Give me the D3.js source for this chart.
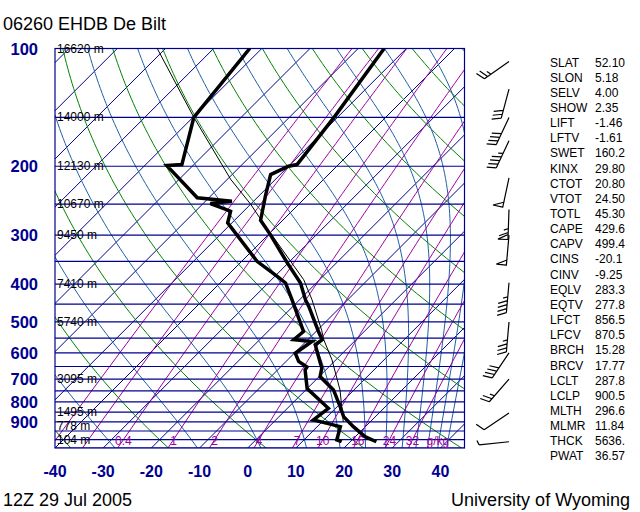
<!DOCTYPE html>
<html>
<head>
<meta charset="utf-8">
<script src="https://cdn.jsdelivr.net/npm/d3@7"></script>
<style>
  body { margin: 0; background: #fff; }
  svg { display: block; font-family: "Liberation Sans", Arial, sans-serif; }
</style>
</head>
<body>
<svg id="chart" width="640" height="512"></svg>
<script>
// ---- sounding (hPa, degC) ----
const tempP = [100, 150, 198, 200, 210, 238.5, 274.8, 299, 353.3, 397.5, 438.6, 456.4, 528.9, 555.3, 572, 612.9, 656.2, 689.6, 745.9, 823, 873.1, 926.1, 982.2, 1012];
const tempT = [-54.6, -50.7, -48.6, -50.0, -52.0, -48.6, -44.6, -39.6, -30.2, -23.3, -18.8, -16.7, -9.5, -7.0, -7.4, -4.3, -1.2, 0.2, 5.75, 10.6, 13.4, 17.5, 22.0, 25.4];

const dewP = [100, 150, 198, 199.2, 240.8, 245.7, 249, 260.6, 279, 350, 382.4, 397.5, 438.6, 474.6, 528.9, 555.3, 560.9, 601, 630.6, 652, 663, 740, 831, 890, 926, 1001, 1012];
const dewT = [-82.5, -79.8, -72.5, -75.4, -62.4, -54.5, -58.5, -52.7, -50.9, -36.8, -29.5, -26.4, -21.6, -17.8, -12.6, -12.9, -8.8, -9.8, -7.4, -4.5, -4.3, 0.0, 8.5, 7.8, 14.8, 16.8, 18.2];

// lifted parcel (thin line)
const parcelP = [100, 150, 216, 250, 275, 390, 439, 525, 555, 625, 746, 900];
const parcelT = [-101.7, -79.8, -59.3, -50.0, -44.4, -23.3, -17.4, -9.1, -6.7, -0.8, 7.1, 14.4];

// wind barbs: pressure, direction (deg), speed (kt)
const windP = [108, 127, 150, 172, 214, 258, 300, 397, 500, 600, 700, 854, 1012];
const windDir = [235, 195, 205, 205, 192, 182, 185, 185, 185, 214, 221, 236, 264];
const windSpd = [25, 30, 40, 45, 50, 65, 50, 45, 35, 40, 25, 10, 5];

// standard level heights
const heightP = [100, 150, 200, 250, 300, 400, 500, 700, 850, 925, 1000];
const heightZ = ["16620", "14000", "12130", "10670", "9450", "7410", "5740", "3095", "1495", "778", "104"];

// background line sets
const isobars = d3.range(100, 1051, 50);
const isotherms = d3.range(-120, 41, 10);
const dryThetaC = d3.range(-80, 201, 20);         // potential temperature, degC
const moistThetaE = d3.range(243.15, 464, 20);     // K
const mixRatios = [0.1, 0.2, 0.4, 1, 2, 4, 7, 10, 16, 24, 32];
const mixLabels = ["", "", "0.4", "1", "2", "4", "7", "10", "16", "24", "32"];

const pLabels = [100, 200, 300, 400, 500, 600, 700, 800, 900];
const tLabels = [-40, -30, -20, -10, 0, 10, 20, 30, 40];

// station indices
const statNames = ["SLAT", "SLON", "SELV", "SHOW", "LIFT", "LFTV", "SWET", "KINX", "CTOT", "VTOT", "TOTL", "CAPE", "CAPV", "CINS", "CINV", "EQLV", "EQTV", "LFCT", "LFCV", "BRCH", "BRCV", "LCLT", "LCLP", "MLTH", "MLMR", "THCK", "PWAT"];
const statValues = ["52.10", "5.18", "4.00", "2.35", "-1.46", "-1.61", "160.2", "29.80", "20.80", "24.50", "45.30", "429.6", "499.4", "-20.1", "-9.25", "283.3", "277.8", "856.5", "870.5", "15.28", "17.77", "287.8", "900.5", "296.6", "11.84", "5636.", "36.57"];

// ---- layout ----
const plot = { left: 55, right: 464.5, top: 48.5, bottom: 448 };
const navy = "#000090";

const svg = d3.select("#chart");

const y = d3.scaleLog().domain([1050, 100]).range([plot.bottom, plot.top]);
const xT = d3.scaleLinear().domain([-40, 45]).range([plot.left, plot.right]);
// 45 degree skew
const sx = (t, p) => xT(t) + (plot.bottom - y(p));

const line = d3.line().x(d => sx(d.t, d.p)).y(d => y(d.p));

svg.append("clipPath").attr("id", "clip")
  .append("rect")
  .attr("x", plot.left).attr("y", plot.top)
  .attr("width", plot.right - plot.left).attr("height", plot.bottom - plot.top);

const grid = svg.append("g").attr("clip-path", "url(#clip)");

const levels = d3.range(0, 81).map(i => 1050 * Math.pow(100 / 1050, i / 80));

// thermodynamics for the background curves
const es = tc => 6.112 * Math.exp(17.67 * tc / (tc + 243.5));
function thetaE(tk, p) {
  const e = es(tk - 273.15);
  if (e > 0.6 * p) return 1e4;
  const w = 0.622 * e / (p - e);
  return tk * Math.pow(1000 / p, 0.2857) * Math.exp(2.5e6 * w / (1005 * tk));
}
function moistT(te, p) {
  let lo = 140, hi = 340;
  for (let i = 0; i < 50; i++) {
    const mid = (lo + hi) / 2;
    if (thetaE(mid, p) > te) hi = mid; else lo = mid;
  }
  return (lo + hi) / 2 - 273.15;
}
function mixT(w, p) {
  const e = w * p / (622 + w);
  const l = Math.log(e / 6.112);
  return 243.5 * l / (17.67 - l);
}

// isotherms
grid.selectAll(".isotherm").data(isotherms).join("path")
  .attr("class", "isotherm")
  .attr("d", t => line([{ t: t, p: 1050 }, { t: t, p: 100 }]))
  .attr("fill", "none").attr("stroke", navy).attr("stroke-width", 1);

// dry adiabats
grid.selectAll(".dry").data(dryThetaC).join("path")
  .attr("class", "dry")
  .attr("d", th => line(levels.map(p => ({ p: p, t: (th + 273.15) * Math.pow(p / 1000, 0.2857) - 273.15 }))))
  .attr("fill", "none").attr("stroke", "#008000").attr("stroke-width", 1);

// moist adiabats
grid.selectAll(".moist").data(moistThetaE).join("path")
  .attr("class", "moist")
  .attr("d", te => line(levels.map(p => ({ p: p, t: moistT(te, p) }))))
  .attr("fill", "none").attr("stroke", "#1f5fa6").attr("stroke-width", 1);

// mixing ratio lines
grid.selectAll(".mix").data(mixRatios).join("path")
  .attr("class", "mix")
  .attr("d", w => line(levels.map(p => ({ p: p, t: mixT(w, p) }))))
  .attr("fill", "none").attr("stroke", "#a000a0").attr("stroke-width", 1);

// isobars
grid.selectAll(".isobar").data(isobars).join("line")
  .attr("class", "isobar")
  .attr("x1", plot.left).attr("x2", plot.right)
  .attr("y1", p => y(p)).attr("y2", p => y(p))
  .attr("stroke", navy).attr("stroke-width", 1.2);

// frame
svg.append("rect")
  .attr("x", plot.left).attr("y", plot.top)
  .attr("width", plot.right - plot.left).attr("height", plot.bottom - plot.top)
  .attr("fill", "none").attr("stroke", navy).attr("stroke-width", 1.2);

// mixing ratio labels along 1000 hPa
svg.selectAll(".mixlab").data(mixRatios.map((w, i) => ({ w: w, lab: mixLabels[i] })).filter(d => d.lab)).join("text")
  .attr("class", "mixlab")
  .attr("x", d => sx(mixT(d.w, 1000), 1000))
  .attr("y", y(1000) + 5)
  .attr("text-anchor", "middle")
  .attr("font-size", 12).attr("fill", "#a000a0")
  .text(d => d.lab);
svg.append("text")
  .attr("x", sx(mixT(32, 1000), 1000) + 14).attr("y", y(1000) + 5)
  .attr("font-size", 12).attr("fill", "#a000a0")
  .text("g/kg");

// heights of standard levels
svg.selectAll(".hgt").data(heightP).join("text")
  .attr("class", "hgt")
  .attr("x", plot.left + 2)
  .attr("y", p => y(p) + 4)
  .attr("font-size", 12).attr("fill", "#000")
  .text((p, i) => heightZ[i] + " m");

// sounding
const clipped = svg.append("g").attr("clip-path", "url(#clip)");
clipped.append("path")
  .datum(parcelP.map((p, i) => ({ p: p, t: parcelT[i] })))
  .attr("d", line).attr("fill", "none").attr("stroke", "#000").attr("stroke-width", 1);
clipped.append("path")
  .datum(dewP.map((p, i) => ({ p: p, t: dewT[i] })))
  .attr("d", line).attr("fill", "none").attr("stroke", "#000").attr("stroke-width", 3.5);
clipped.append("path")
  .datum(tempP.map((p, i) => ({ p: p, t: tempT[i] })))
  .attr("d", line).attr("fill", "none").attr("stroke", "#000").attr("stroke-width", 3.5);

// axis labels
svg.selectAll(".plab").data(pLabels).join("text")
  .attr("class", "plab")
  .attr("x", 38).attr("y", p => y(p) + 6)
  .attr("text-anchor", "end")
  .attr("font-size", 16.5).attr("font-weight", "bold").attr("fill", navy)
  .text(p => p);

svg.selectAll(".tlab").data(tLabels).join("text")
  .attr("class", "tlab")
  .attr("x", t => xT(t)).attr("y", 476.5)
  .attr("text-anchor", "middle")
  .attr("font-size", 16).attr("font-weight", "bold").attr("fill", navy)
  .text(t => t);

// wind barbs
const barbX = 509;
function barbPath(bx, by, dir, spd) {
  const a = dir * Math.PI / 180;
  const ux = Math.sin(a), uy = -Math.cos(a);
  const px = -uy, py = ux;
  const L = 30;
  const ex = bx + ux * L, ey = by + uy * L;
  let d = `M${bx},${by}L${ex},${ey}`;
  let s = Math.round(spd / 5) * 5;
  let pos = 0;
  while (s >= 50) {
    const x0 = ex - ux * pos, y0 = ey - uy * pos;
    const x1 = ex - ux * (pos + 5), y1 = ey - uy * (pos + 5);
    d += `M${x0},${y0}L${x0 + px * 10},${y0 + py * 10}L${x1},${y1}Z`;
    pos += 7; s -= 50;
  }
  while (s >= 10) {
    const qx = ex - ux * pos, qy = ey - uy * pos;
    d += `M${qx},${qy}L${qx + px * 9 + ux * 3.5},${qy + py * 9 + uy * 3.5}`;
    pos += 4; s -= 10;
  }
  if (s >= 5) {
    const qx = ex - ux * pos, qy = ey - uy * pos;
    d += `M${qx},${qy}L${qx + px * 4.5 + ux * 1.8},${qy + py * 4.5 + uy * 1.8}`;
  }
  return d;
}
svg.selectAll(".barb").data(windP).join("path")
  .attr("class", "barb")
  .attr("d", (p, i) => barbPath(barbX, y(p), windDir[i], windSpd[i]))
  .attr("fill", "none").attr("stroke", "#000").attr("stroke-width", 1.2);

// indices table
const stats = svg.append("g").attr("font-size", 12).attr("fill", "#000");
stats.selectAll(".sn").data(statNames).join("text")
  .attr("class", "sn")
  .attr("x", 550).attr("y", (d, i) => 66.5 + i * 15.15)
  .text(d => d);
stats.selectAll(".sv").data(statValues).join("text")
  .attr("class", "sv")
  .attr("x", 595).attr("y", (d, i) => 66.5 + i * 15.15)
  .text(d => d);

// titles
svg.append("text").attr("x", 3).attr("y", 30)
  .attr("font-size", 18).attr("fill", "#000")
  .text("06260 EHDB De Bilt");
svg.append("text").attr("x", 3).attr("y", 506)
  .attr("font-size", 18).attr("fill", "#000")
  .text("12Z 29 Jul 2005");
svg.append("text").attr("x", 630).attr("y", 506)
  .attr("text-anchor", "end")
  .attr("font-size", 18).attr("fill", "#000")
  .text("University of Wyoming");
</script>
</body>
</html>
